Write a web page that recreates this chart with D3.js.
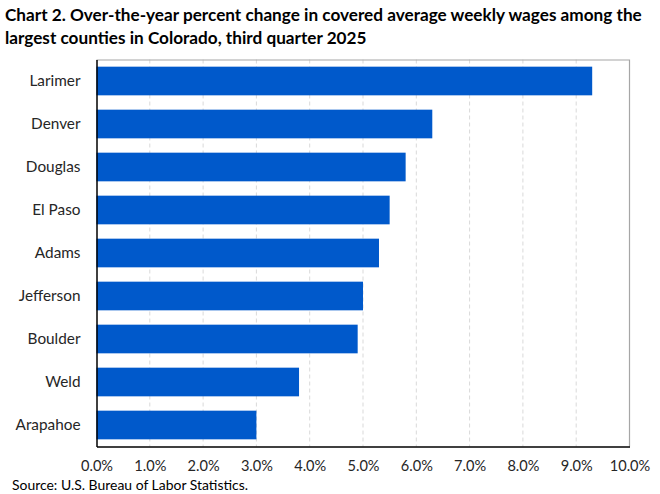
<!DOCTYPE html>
<html>
<head>
<meta charset="utf-8">
<script src="https://cdn.jsdelivr.net/npm/d3@7/dist/d3.min.js"></script>
<style>
  html, body { margin: 0; padding: 0; background: #fff; }
  svg { display: block; font-family: Lato, "Open Sans", sans-serif; }
</style>
</head>
<body>
<svg id="chart" width="660" height="494"></svg>
<script>
const titleLines = [
  "Chart 2. Over-the-year percent change in covered average weekly wages among the",
  "largest counties in Colorado, third quarter 2025"
];
const sourceText = "Source: U.S. Bureau of Labor Statistics.";
const counties = ["Larimer", "Denver", "Douglas", "El Paso", "Adams", "Jefferson", "Boulder", "Weld", "Arapahoe"];
const changes = [9.3, 6.3, 5.8, 5.5, 5.3, 5.0, 4.9, 3.8, 3.0];
const xTicks = [0, 1, 2, 3, 4, 5, 6, 7, 8, 9, 10];

const W = 660, H = 494;
const margin = { top: 59.5, right: 30.5, bottom: 47.5, left: 96.5 };
const iw = W - margin.left - margin.right;
const ih = H - margin.top - margin.bottom;

const svg = d3.select("#chart");

// scale a font so that one sample text reaches a given width
function fitSize(sel, sampleNode, base, target) {
  const len = sampleNode.getComputedTextLength();
  sel.attr("font-size", base * target / len);
}

// Title
const titleSel = svg.append("g").selectAll("text").data(titleLines).join("text")
  .attr("x", 5)
  .attr("y", (d, i) => 21 + i * 22.5)
  .attr("font-weight", "bold")
  .attr("font-size", 15.6)
  .attr("fill", "#000")
  .text(d => d);
fitSize(titleSel, titleSel.nodes()[0], 15.6, 637);

const g = svg.append("g").attr("transform", `translate(${margin.left},${margin.top})`);

const x = d3.scaleLinear().domain([0, 10]).range([0, iw]);
const y = d3.scaleBand().domain(counties).range([0, ih]).paddingInner(1/3).paddingOuter(1/6);

// Grid lines
g.append("g").selectAll("line").data(xTicks.filter(t => t > 0 && t < 10)).join("line")
  .attr("x1", d => x(d)).attr("x2", d => x(d))
  .attr("y1", 0).attr("y2", ih)
  .attr("stroke", "#d9d9d9").attr("stroke-width", 1)
  .attr("stroke-dasharray", "4,3");

// Frame top & right
g.append("path")
  .attr("d", `M0,0.5H${iw}V${ih}`)
  .attr("fill", "none").attr("stroke", "#a6a6a6").attr("stroke-width", 1.2);

// Bars
g.append("g").selectAll("rect").data(counties).join("rect")
  .attr("x", 0)
  .attr("y", d => y(d))
  .attr("width", (d, i) => x(changes[i]))
  .attr("height", y.bandwidth())
  .attr("fill", "#0059CB");

// Axes
const xAxis = g.append("g").attr("transform", `translate(0,${ih})`)
  .call(d3.axisBottom(x).tickValues(xTicks).tickSize(0).tickPadding(14).tickFormat(d => d.toFixed(1) + "%"));
xAxis.select(".domain").attr("stroke", "#000").attr("stroke-width", 1.5);
const xt = xAxis.selectAll("text").attr("font-size", 15.2).attr("fill", "#262626").attr("font-family", "Lato, sans-serif");
fitSize(xt, xt.nodes()[xt.size() - 1], 15.2, 40.5);

const yAxis = g.append("g")
  .call(d3.axisLeft(y).tickSize(0).tickPadding(16));
yAxis.select(".domain").attr("stroke", "#000").attr("stroke-width", 1.5);
const yt = yAxis.selectAll("text").attr("font-size", 15.2).attr("fill", "#262626").attr("font-family", "Lato, sans-serif");
fitSize(yt, yt.nodes()[0], 15.2, 51);

// Source
const src = svg.append("text")
  .attr("x", 12).attr("y", 489.5)
  .attr("font-size", 12.4).attr("fill", "#000")
  .text(sourceText);
fitSize(src, src.node(), 12.4, 236);
</script>
</body>
</html>
